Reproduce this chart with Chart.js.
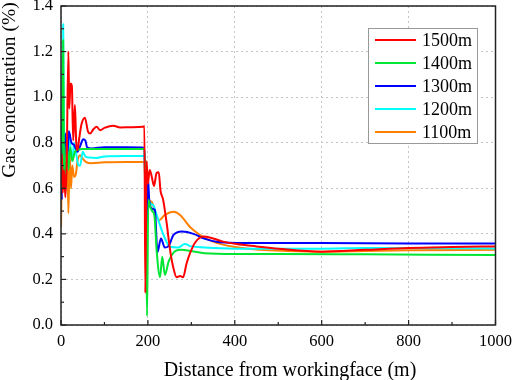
<!DOCTYPE html>
<html>
<head>
<meta charset="utf-8">
<script src="https://cdn.jsdelivr.net/npm/chart.js@4.4.1/dist/chart.umd.min.js"></script>
<style>
  html, body { margin: 0; padding: 0; background: #fff; }
  #wrap { width: 512px; height: 380px; }
</style>
</head>
<body>
<div id="wrap"><canvas id="chart" width="512" height="380"></canvas></div>
<script>
// DATA //

const labels = ["1500m", "1400m", "1300m", "1200m", "1100m"];
const colors = ["#ff0000", "#00e633", "#0000ff", "#00ffff", "#ff8000"];

const dist1500 = [0, 2, 4, 7, 10, 13, 17, 19, 22, 25, 28, 32, 35, 38, 42, 47, 55, 62, 67, 75, 82, 90, 100, 120, 136, 160, 189, 192,
  194, 197, 200, 204, 209, 214, 220, 225, 229, 235, 243, 251, 258, 266, 274, 281, 289, 297, 308, 328, 350, 373, 404, 450, 500, 600, 700, 800, 900, 1000];
const gas1500 = [0.62, 0.75, 0.58, 0.68, 0.56, 0.7, 1.2, 0.95, 1.06, 1.05, 0.81, 0.965, 0.8, 0.768, 0.82, 0.88, 0.91, 0.85, 0.84, 0.86, 0.87, 0.855, 0.865, 0.875, 0.867, 0.868, 0.87, 0.873,
  0.14, 0.72, 0.62, 0.68, 0.65, 0.61, 0.667, 0.67, 0.59, 0.55, 0.45, 0.33, 0.256, 0.21, 0.215, 0.21, 0.27, 0.315, 0.36, 0.388, 0.38, 0.366, 0.355, 0.345, 0.335, 0.322, 0.33, 0.338, 0.342, 0.345];

const dist1400 = [0, 3, 5, 7, 10, 13, 17, 21, 26, 32, 40, 50, 100, 150, 192,
  195, 198, 201, 205, 210, 215, 220, 228, 233, 239, 248, 260, 275, 300, 330, 400, 500, 700, 1000];
const gas1400 = [0.6, 0.9, 1.25, 0.7, 0.62, 0.8, 0.68, 0.78, 0.72, 0.76, 0.77, 0.772, 0.772, 0.772, 0.772,
  0.55, 0.04, 0.55, 0.52, 0.5, 0.48, 0.33, 0.21, 0.3, 0.22, 0.28, 0.32, 0.33, 0.325, 0.315, 0.312, 0.312, 0.31, 0.307];

const dist1300 = [0, 2, 4, 7, 10, 14, 18, 24, 30, 38, 45, 51, 56, 60, 70, 100, 150, 192,
  194, 197, 200, 203, 210, 216, 222, 230, 239, 247, 259, 278, 305, 328, 358, 400, 450, 600, 800, 1000];
const gas1300 = [0.7, 0.55, 0.88, 0.7, 0.84, 0.72, 0.85, 0.8, 0.79, 0.76, 0.79, 0.815, 0.81, 0.78, 0.775, 0.78, 0.78, 0.778,
  0.6, 0.4, 0.65, 0.55, 0.51, 0.505, 0.32, 0.38, 0.34, 0.345, 0.395, 0.41, 0.4, 0.38, 0.365, 0.36, 0.36, 0.36, 0.358, 0.358];

const dist1200 = [0, 3, 5, 7, 9, 12, 15, 18, 22, 26, 30, 36, 40, 44, 50, 56, 65, 80, 100, 150, 192,
  195, 198, 201, 212, 220, 235, 251, 270, 285, 300, 330, 400, 600, 700, 1000];
const gas1200 = [0.7, 0.9, 1.32, 0.75, 0.6, 0.82, 0.7, 0.85, 0.78, 0.72, 0.8, 0.74, 0.7, 0.7, 0.76, 0.74, 0.735, 0.733, 0.74, 0.742, 0.742,
  0.45, 0.68, 0.55, 0.527, 0.483, 0.4, 0.343, 0.34, 0.355, 0.345, 0.34, 0.335, 0.335, 0.338, 0.336];

const dist1100 = [0, 2, 5, 8, 11, 14, 17, 20, 23, 26, 30, 34, 38, 44, 50, 58, 70, 100, 150, 192,
  195, 198, 202, 209, 216, 226, 239, 259, 274, 297, 320, 350, 397, 458, 520, 600, 700, 800, 1000];
const gas1100 = [0.43, 0.62, 0.6, 0.82, 0.65, 0.8, 0.49, 0.75, 0.6, 0.7, 0.65, 0.66, 0.72, 0.745, 0.73, 0.715, 0.71, 0.714, 0.715, 0.715,
  0.56, 0.63, 0.55, 0.54, 0.5, 0.46, 0.483, 0.497, 0.483, 0.43, 0.395, 0.366, 0.343, 0.33, 0.325, 0.322, 0.325, 0.328, 0.33];

const xTicks = [0, 200, 400, 600, 800, 1000];
const yTicks = [0.0, 0.2, 0.4, 0.6, 0.8, 1.0, 1.2, 1.4];
const xTitle = "Distance from workingface (m)";
const yTitle = "Gas concentration (%)";

// BUILD DATASETS //

const seriesX = [dist1500, dist1400, dist1300, dist1200, dist1100];
const seriesY = [gas1500, gas1400, gas1300, gas1200, gas1100];

const datasets = labels.map((label, i) => ({
  label: label,
  data: seriesX[i].map((x, j) => ({ x: x, y: seriesY[i][j] })),
  borderColor: colors[i],
  borderWidth: 2,
  pointRadius: 0,
  fill: false,
  cubicInterpolationMode: "monotone",
}));

const serif = "'Liberation Serif', 'Times New Roman', serif";

// frame, inward ticks, titles and legend
const decorations = {
  id: "decorations",
  afterDraw(chart) {
    const ctx = chart.ctx;
    const area = chart.chartArea;
    const xs = chart.scales.x;
    const ys = chart.scales.y;
    ctx.save();

    // inward ticks
    ctx.strokeStyle = "#222";
    ctx.lineWidth = 1.2;
    for (let v = 0; v <= 1000; v += 100) {
      const px = xs.getPixelForValue(v);
      const len = v % 200 === 0 ? 5 : 3;
      ctx.beginPath();
      ctx.moveTo(px, area.bottom);
      ctx.lineTo(px, area.bottom - len);
      ctx.stroke();
    }
    for (let k = 0; k <= 14; k++) {
      const py = ys.getPixelForValue(k / 10);
      const len = k % 2 === 0 ? 5 : 3;
      ctx.beginPath();
      ctx.moveTo(area.left, py);
      ctx.lineTo(area.left + len, py);
      ctx.stroke();
    }

    // frame
    ctx.strokeStyle = "#222";
    ctx.lineWidth = 1.5;
    ctx.strokeRect(area.left, area.top, area.right - area.left, area.bottom - area.top);

    // axis titles
    ctx.fillStyle = "#000";
    ctx.textAlign = "center";
    ctx.textBaseline = "middle";
    ctx.font = "20px " + serif;
    ctx.fillText(xTitle, 290, 371);
    ctx.save();
    ctx.translate(10, 90);
    ctx.rotate(-Math.PI / 2);
    ctx.font = "19.5px " + serif;
    ctx.fillText(yTitle, 0, 0);
    ctx.restore();

    // legend
    const lx = 368, ly = 28, lw = 109, lh = 115;
    ctx.fillStyle = "#fff";
    ctx.fillRect(lx, ly, lw, lh);
    ctx.strokeStyle = "#999";
    ctx.lineWidth = 1;
    ctx.strokeRect(lx + 0.5, ly + 0.5, lw, lh);
    ctx.textAlign = "left";
    ctx.font = "18px " + serif;
    labels.forEach((label, i) => {
      const cy = ly + 12 + i * 23;
      ctx.strokeStyle = colors[i];
      ctx.lineWidth = 2;
      ctx.beginPath();
      ctx.moveTo(lx + 7, cy);
      ctx.lineTo(lx + 48, cy);
      ctx.stroke();
      ctx.fillStyle = "#000";
      ctx.fillText(label, lx + 54, cy + 1);
    });
    ctx.restore();
  },
};

new Chart(document.getElementById("chart"), {
  type: "line",
  data: { datasets: datasets },
  options: {
    responsive: false,
    animation: false,
    layout: { padding: { left: 0, right: 16.5, top: 6, bottom: 0 } },
    plugins: { legend: { display: false }, tooltip: { enabled: false } },
    scales: {
      x: {
        type: "linear",
        min: 0,
        max: 1000,
        afterBuildTicks: (scale) => { scale.ticks = xTicks.map((v) => ({ value: v })); },
        afterFit: (scale) => { scale.height = 55; scale.paddingLeft = 0; scale.paddingRight = 0; },
        ticks: { color: "#000", font: { family: serif, size: 16.5 }, padding: 7, maxRotation: 0, callback: (v) => String(v) },
        grid: { color: "#c4c4c4", lineWidth: 1, drawTicks: false },
        border: { display: false, dash: [2, 3] },
      },
      y: {
        type: "linear",
        min: 0,
        max: 1.4,
        afterBuildTicks: (scale) => { scale.ticks = yTicks.map((v) => ({ value: v })); },
        afterFit: (scale) => { scale.width = 61; scale.paddingTop = 0; scale.paddingBottom = 0; },
        ticks: { color: "#000", font: { family: serif, size: 16.5 }, padding: 8, callback: (v) => Number(v).toFixed(1) },
        grid: { color: "#c4c4c4", lineWidth: 1, drawTicks: false },
        border: { display: false, dash: [2, 3] },
      },
    },
  },
  plugins: [decorations],
});
</script>
</body>
</html>
